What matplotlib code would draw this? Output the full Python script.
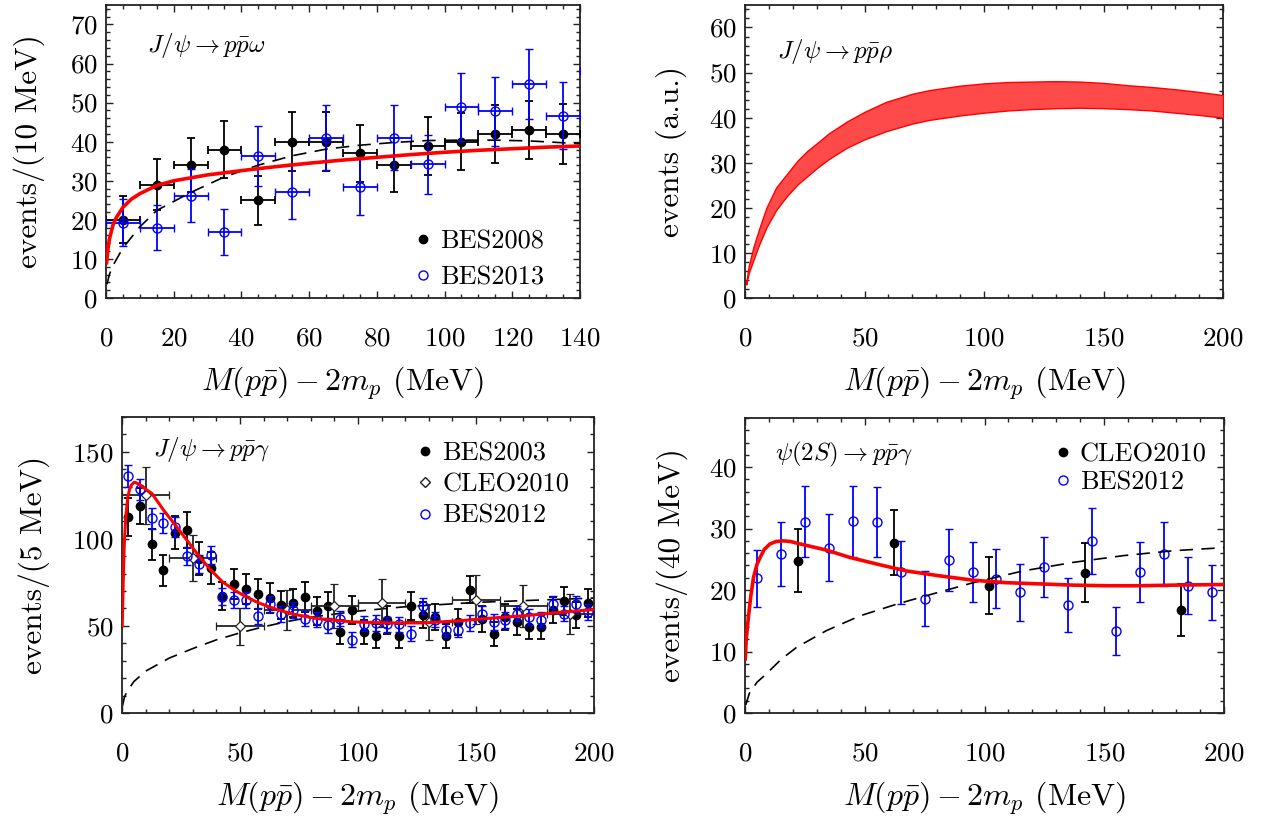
import matplotlib
matplotlib.use("Agg")
import matplotlib.pyplot as plt
from matplotlib.lines import Line2D
from matplotlib.ticker import MultipleLocator

plt.rcParams['font.family'] = 'serif'
plt.rcParams['font.serif'] = ['cmr10', 'DejaVu Serif']
plt.rcParams['mathtext.fontset'] = 'cm'
plt.rcParams['axes.formatter.use_mathtext'] = True

# ---------------- Panel 1 : J/psi -> p pbar omega ----------------
om_x = [5, 15, 25, 35, 45, 55, 65, 75, 85, 95, 105, 115, 125, 135]
om_bes08_y = [20, 29, 34, 38, 25, 40, 40, 37, 34, 39, 40, 42, 43, 42]
om_bes08_err = [6, 6.5, 7, 7.3, 6.3, 7.5, 7.5, 7.3, 7, 7.4, 7.3, 7.5, 7.5, 7.7]
om13_x = [5, 15, 25, 35, 45, 55, 65, 75, 85, 95, 105, 115, 125, 135, 145]
om_bes13_y = [19.3, 18, 26.2, 17, 36.4, 27.2, 41, 28.4, 41, 34.2, 48.9, 47.8, 54.7, 46.7, 58]
om_bes13_err = [6, 5.8, 6.7, 5.9, 7.7, 7, 8.3, 7.2, 8.3, 7.5, 8.8, 8.8, 9, 8.6, 10]
om_xerr = 5
om_fit_x = [0.2, 0.5, 1, 2, 3, 5, 7.5, 10, 15, 20, 30, 40, 50, 60, 70, 80, 90, 100, 110, 120, 130, 140]
om_fit_y = [9, 12, 15, 18.5, 20.5, 23.2, 25.3, 26.7, 28.8, 30, 31.5, 32.6, 33.6, 34.5, 35.3, 36, 36.7, 37.3, 37.8, 38.2, 38.6, 38.9]
om_ps_x = [0.3, 1, 2, 5, 10, 15, 25, 35, 45, 55, 65, 75, 85, 95, 105, 115, 125, 140]
om_ps_y = [3.5, 6, 8.2, 12.8, 18.2, 22.4, 27, 31, 34, 36.4, 38.1, 39.1, 39.8, 40.3, 40.4, 40.4, 40.2, 39.5]

# ---------------- Panel 2 : J/psi -> p pbar rho ----------------
rho_x = [0.5, 1.5, 3.5, 6, 9, 13, 17.5, 22, 26, 30, 35, 42.5, 50, 59, 70, 77, 90,
         100, 110, 120, 130, 140, 150, 160, 170, 180, 190, 200]
rho_up = [3.4, 7, 11.3, 15.5, 20.1, 24.5, 27.5, 30.5, 32.6, 34.3, 36.5, 39.1, 41.3, 43.5,
          45.3, 46.1, 47.1, 47.6, 47.9, 48.0, 48.1, 48.0, 47.7, 47.2, 46.8, 46.3, 45.7, 45.0]
rho_lo = [3.0, 5.5, 8.4, 12.0, 15.7, 19.5, 22.6, 25.2, 27.0, 28.8, 30.8, 33.3, 35.2, 37.0,
          38.7, 39.5, 40.5, 41.1, 41.6, 41.9, 42.1, 42.2, 42.1, 41.9, 41.6, 41.1, 40.6, 40.0]

# ---------------- Panel 3 : J/psi -> p pbar gamma ----------------
g_x = [2.5 + 5 * i for i in range(40)]
g_bes03_y = [112.6, 118.8, 96.9, 82.0, 103.4, 105.0, 88.5, 83.3, 67.0, 73.9,
             71.3, 68.2, 66.1, 62.1, 63.2, 66.7, 58.6, 61.5, 46.4, 59.0,
             46.6, 44.3, 53.3, 44.3, 61.5, 56.1, 55.2, 44.3, 52.3, 70.9,
             54.2, 45.2, 55.2, 52.3, 49.4, 49.4, 59.0, 64.4, 56.1, 63.2]
g_bes03_err = [10.7, 10.2, 9, 9, 9.5, 10.5, 9.5, 9, 8, 8.5,
               8.5, 8.5, 8.5, 8, 8, 8.5, 8, 8, 7, 8,
               7, 7, 8, 7, 8, 7.5, 7.5, 7, 7.5, 8,
               7.5, 7, 7.5, 7.5, 7, 7, 7.5, 8, 7.5, 8]
g_bes12_y = [136.0, 128.4, 111.7, 109.2, 106.9, 90.0, 85.8, 90.6, 66.7, 64.8,
             64.8, 55.6, 62.8, 57.1, 59.4, 54.2, 53.6, 50.4, 54.2, 42.1,
             51.3, 51.7, 51.0, 51.0, 45.6, 61.3, 53.6, 47.9, 47.9, 51.7,
             57.1, 52.3, 53.3, 57.1, 55.2, 53.6, 62.5, 57.1, 62.8, 58.0]
g_bes12_err = [6.4, 6, 5.8, 5.6, 5.6, 5.2, 5.2, 5.2, 4.8, 4.8,
               4.8, 4.6, 4.6, 4.6, 4.6, 4.5, 4.5, 4.4, 4.5, 4.2,
               4.4, 4.4, 4.4, 4.4, 4.2, 4.6, 4.4, 4.3, 4.3, 4.4,
               4.5, 4.4, 4.4, 4.5, 4.5, 4.4, 4.6, 4.5, 4.6, 4.5]
g_cleo_x = [10, 30, 50, 70, 90, 110, 130, 150, 170, 190]
g_cleo_y = [125, 89, 49.8, 59, 61.3, 63.2, 52.3, 65.1, 61.3, 57]
g_cleo_err = [16.5, 13, 10.5, 11.5, 12.5, 14, 10.5, 14, 12, 11.5]
g_cleo_xerr = 10
g_fit_x = [0.1, 0.3, 0.7, 1.0, 1.5, 2.0, 2.5, 3.2, 4, 5, 5.5, 7, 9, 12.7, 17.6, 22.6, 27.5,
           32.7, 37.7, 42.6, 47.7, 52.6, 57.6, 62.5, 67.6, 72.7, 82.6, 97.7, 112.5,
           127.4, 142.6, 157.5, 172.6, 187.4, 200]
g_fit_y = [50, 62, 85, 98, 110, 118, 124, 128.5, 131, 132.3, 132.5, 131.5, 129.5, 126,
           116.5, 107.9, 99.2, 90, 82, 75.3, 70.5, 66.7, 63.4, 60.9, 58.6, 56.7, 54.2,
           52.3, 51.7, 51.7, 52.9, 54.6, 56.1, 58, 59.4]
g_ps_x = [0.2, 1, 2, 5, 10, 20, 30, 40, 50, 60, 70, 80, 100, 120, 150, 200]
g_ps_y = [4, 9, 12, 18, 24, 31.5, 37, 42, 46, 49.5, 52.5, 55, 58.5, 61, 63.5, 66]

# ---------------- Panel 4 : psi(2S) -> p pbar gamma ----------------
p_bes_x = [5, 15, 25, 35, 45, 55, 65, 75, 85, 95, 105, 115, 125, 135, 145, 155, 165, 175, 185, 195]
p_bes_y = [21.9, 25.9, 31.1, 26.9, 31.2, 31.1, 22.9, 18.6, 24.9, 22.9,
           21.8, 19.6, 23.8, 17.5, 28.0, 13.4, 22.9, 25.9, 20.7, 19.6]
p_bes_err = [4.6, 5.2, 5.8, 5.5, 5.8, 5.7, 5.1, 4.5, 5.1, 4.9,
             4.8, 4.6, 4.9, 4.4, 5.4, 3.9, 4.9, 5.2, 4.6, 4.5]
p_cleo_x = [22, 62, 102, 142, 182]
p_cleo_y = [24.8, 27.7, 20.7, 22.8, 16.8]
p_cleo_err = [5.1, 5.3, 4.6, 4.8, 4.2]
p_fit_x = [0.1, 0.5, 1.4, 2.4, 3.5, 5, 6.3, 8, 10.4, 13, 16, 19, 23, 34, 43.8, 56.4, 67.5,
           81.4, 95.3, 109, 123, 137, 151, 165, 179, 200]
p_fit_y = [8.8, 12, 15.6, 19, 22, 24.2, 25.3, 26.6, 27.5, 27.9, 28, 27.9, 27.5, 26.5,
           25.3, 24.1, 23.1, 22.3, 21.6, 21.2, 21.0, 20.8, 20.7, 20.7, 20.8, 20.9]
p_ps_x = [0.3, 1.8, 5, 9, 15, 21.6, 34, 48, 63.3, 75.9, 95.3, 116, 137, 158, 179, 200]
p_ps_y = [1.3, 3.2, 5.0, 6.4, 8.7, 10.7, 13.4, 15.8, 17.7, 19.1, 21.2, 23.1, 24.5, 25.6, 26.4, 26.9]

# ---------------- Figure ----------------
fig = plt.figure(figsize=(12.63, 8.25), dpi=100)
ax1 = fig.add_axes([0.0839, 0.6388, 0.3753, 0.3552])
ax2 = fig.add_axes([0.5899, 0.6388, 0.3785, 0.3552])
ax3 = fig.add_axes([0.0966, 0.1358, 0.3737, 0.3588])
ax4 = fig.add_axes([0.5899, 0.1358, 0.3792, 0.3576])

TICK_FS = 19.5
YLAB_FS = 22.5
XLAB_FS = 23
ANN_FS = 18
LEG_FS = 19

RED = '#ff0000'
BLUE = '#0000ff'
dash = (0, (8, 5))
ebkw = dict(capsize=2.8, elinewidth=1.3, capthick=1.3, linestyle='none')


def style(ax, xmaj, xmin, ymaj, ymin, ylabx):
    ax.xaxis.set_major_locator(MultipleLocator(xmaj))
    ax.xaxis.set_minor_locator(MultipleLocator(xmin))
    ax.yaxis.set_major_locator(MultipleLocator(ymaj))
    ax.yaxis.set_minor_locator(MultipleLocator(ymin))
    ax.tick_params(which='both', direction='in', top=True, right=True, width=1.0, color='#222222')
    ax.tick_params(which='major', length=5)
    ax.tick_params(which='minor', length=3)
    ax.tick_params(axis='x', which='major', labelsize=TICK_FS, pad=21)
    ax.tick_params(axis='y', which='major', labelsize=TICK_FS, pad=6)
    for s in ax.spines.values():
        s.set_linewidth(1.3)
        s.set_color('#222222')
    ax.set_xlabel(r'$M(p\bar{p})-2m_p$ (MeV)', fontsize=XLAB_FS)
    h = ax.get_position().height * 825
    ax.xaxis.set_label_coords(0.5, -67.0 / h)
    ax.yaxis.set_label_coords(ylabx, 0.5)


def leg(ax, handles, ls, **kw):
    lg = ax.legend(handles=handles, frameon=False, fontsize=LEG_FS, handlelength=0.7,
                   handletextpad=0.3, borderaxespad=0.0, labelspacing=ls, **kw)
    return lg


# Panel 1
ax1.errorbar(om_x, om_bes08_y, yerr=om_bes08_err, xerr=om_xerr, color='black', marker='o',
             markersize=6, zorder=3, **ebkw)
ax1.errorbar(om13_x, om_bes13_y, yerr=om_bes13_err, xerr=om_xerr, color=BLUE, marker='o',
             markersize=6.5, markerfacecolor='none', markeredgewidth=1.0, zorder=4, **ebkw)
ax1.plot(om_ps_x, om_ps_y, color='black', lw=1.2, linestyle=dash, zorder=5)
ax1.plot(om_fit_x, om_fit_y, color=RED, lw=2.6, zorder=6)
ax1.set_xlim(0, 140)
ax1.set_ylim(0, 75)
ax1.set_ylabel('events/(10 MeV)', fontsize=YLAB_FS)
style(ax1, 20, 5, 10, 2, -0.129)
ax1.text(0.087, 0.863, r'$J/\psi \to p\bar{p}\omega$', transform=ax1.transAxes,
         fontsize=ANN_FS, va='center', ha='left')
leg(ax1, [Line2D([], [], color='black', marker='o', markersize=6, linestyle='none'),
          Line2D([], [], color=BLUE, marker='o', markersize=6.5, markerfacecolor='none',
                 linestyle='none')], 0.46,
    labels=['BES2008', 'BES2013'], loc='upper left', bbox_to_anchor=(0.628, 0.27))

# Panel 2
ax2.fill_between(rho_x, rho_lo, rho_up, facecolor='#ff4a4a', edgecolor=RED, linewidth=1.0,
                 zorder=3)
ax2.set_xlim(0, 200)
ax2.set_ylim(0, 65)
ax2.set_ylabel('events (a.u.)', fontsize=YLAB_FS)
style(ax2, 50, 10, 10, 2, -0.121)
ax2.text(0.067, 0.84, r'$J/\psi \to p\bar{p}\rho$', transform=ax2.transAxes,
         fontsize=ANN_FS, va='center', ha='left')

# Panel 3
ax3.errorbar(g_x, g_bes03_y, yerr=g_bes03_err, color='black', marker='o', markersize=6,
             zorder=3, **ebkw)
ax3.errorbar(g_cleo_x, g_cleo_y, yerr=g_cleo_err, xerr=g_cleo_xerr, color='#222222',
             marker='D', markersize=5.5, markerfacecolor='white', markeredgewidth=0.9,
             zorder=4, **ebkw)
ax3.errorbar(g_x, g_bes12_y, yerr=g_bes12_err, color=BLUE, marker='o', markersize=6.5,
             markerfacecolor='none', markeredgewidth=1.0, zorder=5, **ebkw)
ax3.plot(g_ps_x, g_ps_y, color='black', lw=1.2, linestyle=dash, zorder=2)
ax3.plot(g_fit_x, g_fit_y, color=RED, lw=2.2, zorder=6)
ax3.set_xlim(0, 200)
ax3.set_ylim(0, 170)
ax3.set_ylabel('events/(5 MeV)', fontsize=YLAB_FS)
style(ax3, 50, 10, 50, 10, -0.153)
ax3.text(0.066, 0.889, r'$J/\psi \to p\bar{p}\gamma$', transform=ax3.transAxes,
         fontsize=ANN_FS, va='center', ha='left')
leg(ax3, [Line2D([], [], color='black', marker='o', markersize=6, linestyle='none'),
          Line2D([], [], color='#222222', marker='D', markersize=5.5, markerfacecolor='white',
                 linestyle='none'),
          Line2D([], [], color=BLUE, marker='o', markersize=6.5, markerfacecolor='none',
                 linestyle='none')], 0.29,
    labels=['BES2003', 'CLEO2010', 'BES2012'], loc='upper left', bbox_to_anchor=(0.6, 0.953))

# Panel 4
ax4.errorbar(p_cleo_x, p_cleo_y, yerr=p_cleo_err, color='black', marker='o', markersize=6,
             zorder=3, **ebkw)
ax4.errorbar(p_bes_x, p_bes_y, yerr=p_bes_err, color=BLUE, marker='o', markersize=6.5,
             markerfacecolor='none', markeredgewidth=1.0, zorder=4, **ebkw)
ax4.plot(p_ps_x, p_ps_y, color='black', lw=1.2, linestyle=dash, zorder=5)
ax4.plot(p_fit_x, p_fit_y, color=RED, lw=2.6, zorder=6)
ax4.set_xlim(0, 200)
ax4.set_ylim(0, 48)
ax4.set_ylabel('events/(40 MeV)', fontsize=YLAB_FS)
style(ax4, 50, 10, 10, 2, -0.119)
ax4.text(0.063, 0.875, r'$\psi(2S) \to p\bar{p}\gamma$', transform=ax4.transAxes,
         fontsize=ANN_FS, va='center', ha='left')
leg(ax4, [Line2D([], [], color='black', marker='o', markersize=6, linestyle='none'),
          Line2D([], [], color=BLUE, marker='o', markersize=6.5, markerfacecolor='none',
                 linestyle='none')], 0.17,
    labels=['CLEO2010', 'BES2012'], loc='upper left', bbox_to_anchor=(0.622, 0.953))

fig.savefig('out.png', dpi=100)
